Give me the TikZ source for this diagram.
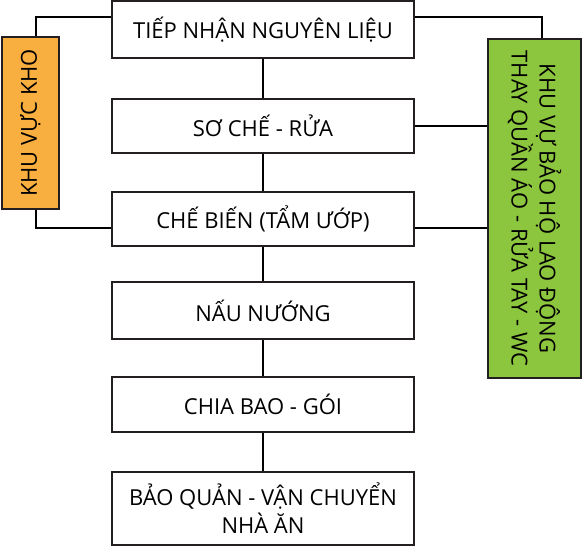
\documentclass[tikz,border=0pt]{standalone}
\usepackage{fontspec}
\setmainfont{Open Sans}
\definecolor{khoorange}{HTML}{F9AE40}
\definecolor{ppegreen}{HTML}{8CC63F}
\definecolor{edgegray}{HTML}{231F20}
\begin{document}
\begin{tikzpicture}[x=1pt,y=-1pt,
  stepbox/.style={draw=edgegray, line width=1.6pt, fill=white, minimum width=302pt, inner sep=0pt, align=center,
    font=\fontsize{22}{28}\selectfont},
  sidebox/.style={draw=edgegray, line width=1.6pt, inner sep=0pt},
  sidetext/.style={align=center, font=\fontsize{22}{28}\selectfont},
  link/.style={draw=black, line width=1.6pt}]
\useasboundingbox (0,0) rectangle (583,548);
% main column
\node[stepbox, minimum height=57pt] (b1) at (263,29.5) {TIẾP NHẬN NGUYÊN LIỆU};
\node[stepbox, minimum height=54pt] (b2) at (263,126) {SƠ CHẾ - RỬA};
\node[stepbox, minimum height=54pt] (b3) at (263,219) {CHẾ BIẾN (TẨM ƯỚP)};
\node[stepbox, minimum height=57pt] (b4) at (263,310.5) {NẤU NƯỚNG};
\node[stepbox, minimum height=55pt] (b5) at (263,404.5) {CHIA BAO - GÓI};
\node[stepbox, minimum height=73pt] (b6) at (263,508.5) {BẢO QUẢN - VẬN CHUYỂN\\NHÀ ĂN};
% side boxes
\node[sidebox, fill=khoorange, minimum width=57pt, minimum height=172pt] (kho) at (30.5,123) {};
\node[sidetext, rotate=90] (khotext) at (kho.center) {KHU VỰC KHO};
\node[sidebox, fill=ppegreen, minimum width=93pt, minimum height=339pt] (ppe) at (534.5,208.5) {};
\node[sidetext, rotate=-90] (ppetext) at (ppe.center) {KHU VỰ BẢO HỘ LAO ĐỘNG\\THAY QUẦN ÁO - RỬA TAY - WC};
% vertical chain
\draw[link] (b1.south) -- (b2.north);
\draw[link] (b2.south) -- (b3.north);
\draw[link] (b3.south) -- (b4.north);
\draw[link] (b4.south) -- (b5.north);
\draw[link] (b5.south) -- (b6.north);
% left connectors
\draw[link] ([yshift=12.5pt]b1.west) -| ([xshift=5.5pt]kho.north);
\draw[link] ([yshift=-9pt]b3.west) -| ([xshift=5.5pt]kho.south);
% right connectors
\draw[link] ([yshift=12.5pt]b1.east) -| ([xshift=7.5pt]ppe.north);
\draw[link] (b2.east) -- (b2.east -| ppe.west);
\draw[link] ([yshift=-9pt]b3.east) -- ([yshift=-9pt]b3.east -| ppe.west);
\end{tikzpicture}
\end{document}
